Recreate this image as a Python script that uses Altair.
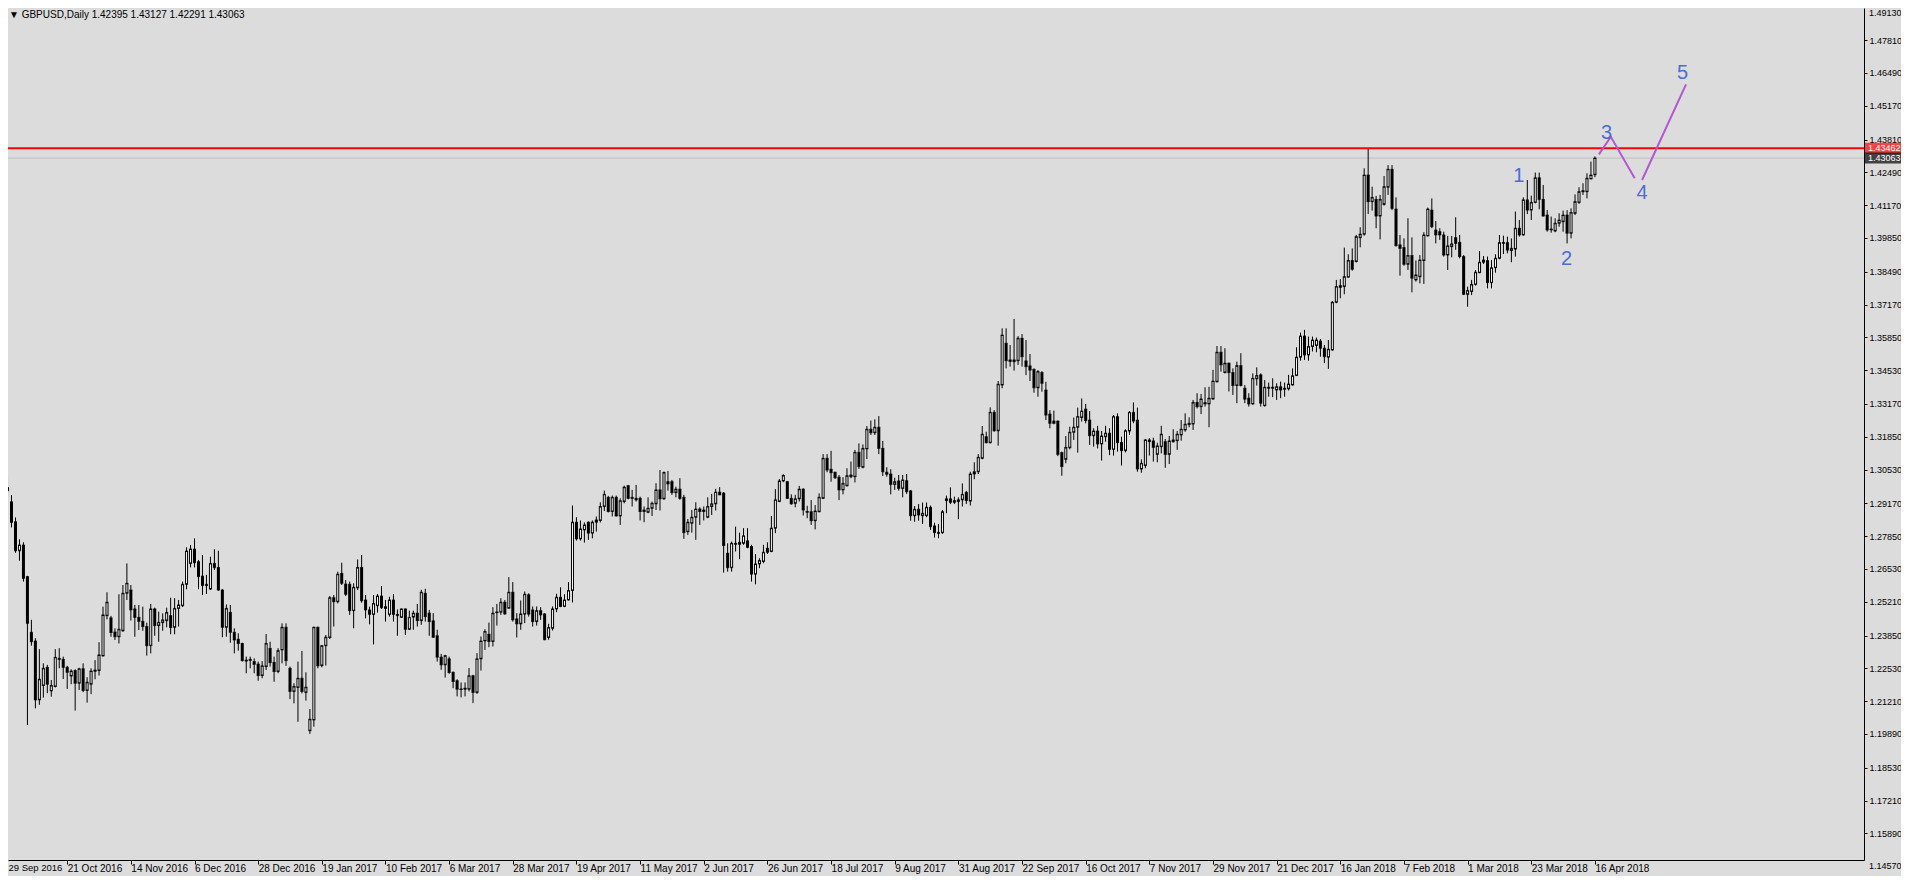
import altair as alt
import pandas as pd

# ---------------- data (GBPUSD daily) ----------------
opens = [
1.3000,1.2968,1.2923,1.2843,1.2726,1.2749,1.2622,1.2398,1.2363,1.2126,
1.2184,1.2257,1.2162,1.2180,1.2293,1.2289,1.2257,1.2222,1.2244,1.2193,
1.2251,1.2164,1.2189,1.2241,1.2244,1.2303,1.2465,1.2456,1.2399,1.2380,
1.2404,1.2555,1.2568,1.2492,1.2458,1.2442,1.2421,1.2344,1.2492,1.2425,
1.2437,1.2445,1.2465,1.2418,1.2494,1.2505,1.2591,1.2675,1.2733,1.2682,
1.2624,1.2591,1.2572,1.2675,1.2659,1.2568,1.2418,1.2478,1.2398,1.2370,
1.2353,1.2286,1.2285,1.2280,1.2270,1.2224,1.2260,1.2333,1.2277,1.2240,
1.2327,1.2418,1.2253,1.2160,1.2176,1.2213,1.2156,1.2002,1.2045,1.2418,
1.2264,1.2344,1.2377,1.2537,1.2521,1.2635,1.2592,1.2591,1.2485,1.2577,
1.2659,1.2528,1.2488,1.2470,1.2505,1.2544,1.2501,1.2470,1.2528,1.2470,
1.2458,1.2492,1.2410,1.2459,1.2475,1.2445,1.2555,1.2475,1.2444,1.2384,
1.2298,1.2267,1.2291,1.2237,1.2203,1.2170,1.2169,1.2169,1.2223,1.2156,
1.2291,1.2363,1.2390,1.2361,1.2477,1.2479,1.2519,1.2495,1.2559,1.2452,
1.2432,1.2471,1.2549,1.2488,1.2441,1.2485,1.2472,1.2377,1.2414,1.2492,
1.2539,1.2502,1.2528,1.2566,1.2841,1.2774,1.2810,1.2841,1.2797,1.2841,
1.2848,1.2904,1.2941,1.2884,1.2941,1.2866,1.2924,1.2988,1.2941,1.2937,
1.2937,1.2890,1.2881,1.2897,1.2915,1.2971,1.2935,1.2995,1.3004,1.2960,
1.2974,1.2941,1.2803,1.2837,1.2861,1.2894,1.2890,1.2861,1.2904,1.2915,
1.2962,1.2958,1.2716,1.2658,1.2756,1.2752,1.2756,1.2766,1.2743,1.2632,
1.2673,1.2683,1.2736,1.2723,1.2817,1.2924,1.3007,1.3004,1.2937,1.2917,
1.2935,1.2974,1.2884,1.2883,1.2847,1.2883,1.2937,1.3098,1.3054,1.3042,
1.3022,1.2971,1.2988,1.3024,1.3024,1.3122,1.3062,1.3136,1.3215,1.3201,
1.3223,1.3138,1.3042,1.3035,1.2993,1.3007,1.2977,1.3008,1.2967,1.2867,
1.2893,1.2867,1.2867,1.2901,1.2826,1.2796,1.2799,1.2928,1.2935,1.2921,
1.2931,1.2931,1.2961,1.2926,1.3035,1.3044,1.3098,1.3185,1.3161,1.3283,
1.3209,1.3393,1.3561,1.3494,1.3494,1.3491,1.3581,1.3490,1.3470,1.3456,
1.3382,1.3443,1.3373,1.3276,1.3239,1.3248,1.3121,1.3094,1.3141,1.3203,
1.3223,1.3262,1.3296,1.3252,1.3189,1.3208,1.3156,1.3185,1.3199,1.3134,
1.3266,1.3162,1.3129,1.3208,1.3283,1.3252,1.3055,1.3069,1.3172,1.3168,
1.3114,1.3145,1.3165,1.3114,1.3165,1.3169,1.3192,1.3212,1.3234,1.3236,
1.3323,1.3306,1.3317,1.3317,1.3337,1.3406,1.3525,1.3443,1.3481,1.3443,
1.3391,1.3471,1.3380,1.3340,1.3317,1.3418,1.3434,1.3310,1.3380,1.3384,
1.3373,1.3386,1.3376,1.3378,1.3393,1.3431,1.3505,1.3590,1.3514,1.3548,
1.3552,1.3570,1.3541,1.3505,1.3534,1.3726,1.3793,1.3789,1.3827,1.3894,
1.3890,1.3986,1.4000,1.4238,1.4131,1.4140,1.4073,1.4120,1.4189,1.4261,
1.4101,1.3957,1.3946,1.3879,1.3914,1.3816,1.3829,1.3894,1.3993,1.4097,
1.4017,1.4010,1.3997,1.3916,1.3950,1.3986,1.3967,1.3910,1.3758,1.3769,
1.3798,1.3845,1.3887,1.3894,1.3805,1.3865,1.3903,1.3963,1.3966,1.3934,
1.3940,1.4024,1.3997,1.4138,1.4097,1.4128,1.4227,1.4140,1.4077,1.4021,
1.4013,1.4044,1.4050,1.4077,1.4004,1.4084,1.4128,1.4171,1.4171,1.4222,
1.42395]

highs = [
1.3035,1.3027,1.2950,1.2860,1.2772,1.2760,1.2625,1.2448,1.2374,1.2330,
1.2273,1.2267,1.2206,1.2330,1.2334,1.2300,1.2263,1.2249,1.2249,1.2255,
1.2273,1.2217,1.2253,1.2286,1.2358,1.2501,1.2559,1.2464,1.2414,1.2551,
1.2588,1.2675,1.2588,1.2508,1.2508,1.2501,1.2437,1.2512,1.2497,1.2481,
1.2474,1.2497,1.2537,1.2535,1.2528,1.2602,1.2740,1.2749,1.2776,1.2689,
1.2709,1.2629,1.2702,1.2732,1.2726,1.2572,1.2510,1.2508,1.2414,1.2394,
1.2356,1.2300,1.2300,1.2293,1.2280,1.2282,1.2391,1.2360,1.2300,1.2334,
1.2434,1.2434,1.2260,1.2193,1.2280,1.2323,1.2237,1.2089,1.2421,1.2421,
1.2347,1.2387,1.2544,1.2548,1.2642,1.2678,1.2608,1.2602,1.2595,1.2691,
1.2709,1.2548,1.2501,1.2548,1.2552,1.2584,1.2528,1.2541,1.2552,1.2490,
1.2494,1.2494,1.2485,1.2485,1.2512,1.2569,1.2573,1.2488,1.2475,1.2408,
1.2311,1.2307,1.2300,1.2240,1.2209,1.2196,1.2196,1.2254,1.2227,1.2314,
1.2381,1.2410,1.2437,1.2499,1.2512,1.2535,1.2528,1.2620,1.2600,1.2475,
1.2526,1.2562,1.2555,1.2502,1.2502,1.2499,1.2475,1.2432,1.2502,1.2553,
1.2579,1.2551,1.2600,1.2908,1.2861,1.2848,1.2840,1.2844,1.2848,1.2864,
1.2921,1.2968,1.2947,1.2948,1.2948,1.2937,1.2988,1.2991,1.2971,1.2991,
1.2944,1.2904,1.2941,1.2924,1.2998,1.3051,1.3045,1.3047,1.3011,1.2984,
1.3018,1.2951,1.2854,1.2890,1.2921,1.2901,1.2904,1.2941,1.2955,1.2975,
1.2982,1.2962,1.2756,1.2763,1.2823,1.2799,1.2817,1.2817,1.2750,1.2713,
1.2696,1.2750,1.2760,1.2866,1.2974,1.3015,1.3034,1.3007,1.2953,1.2951,
1.2987,1.2978,1.2907,1.2930,1.2910,1.2957,1.3115,1.3115,1.3128,1.3044,
1.3031,1.3022,1.3058,1.3085,1.3132,1.3158,1.3154,1.3228,1.3250,1.3255,
1.3268,1.3168,1.3062,1.3054,1.3020,1.3031,1.3031,1.3035,1.2971,1.2906,
1.2914,1.2920,1.2920,1.2908,1.2839,1.2834,1.2890,1.2948,1.2981,1.2944,
1.2941,1.2997,1.2967,1.3044,1.3082,1.3115,1.3228,1.3205,1.3303,1.3292,
1.3409,1.3621,1.3621,1.3554,1.3659,1.3590,1.3598,1.3574,1.3518,1.3460,
1.3453,1.3449,1.3406,1.3292,1.3290,1.3250,1.3125,1.3188,1.3225,1.3262,
1.3302,1.3339,1.3317,1.3288,1.3219,1.3229,1.3208,1.3229,1.3219,1.3272,
1.3279,1.3185,1.3215,1.3288,1.3323,1.3302,1.3094,1.3176,1.3179,1.3181,
1.3161,1.3229,1.3176,1.3188,1.3215,1.3208,1.3252,1.3279,1.3263,1.3333,
1.3360,1.3357,1.3384,1.3386,1.3454,1.3550,1.3550,1.3541,1.3483,1.3460,
1.3487,1.3521,1.3393,1.3360,1.3440,1.3464,1.3440,1.3413,1.3403,1.3420,
1.3400,1.3407,1.3403,1.3434,1.3460,1.3545,1.3604,1.3615,1.3588,1.3588,
1.3584,1.3578,1.3554,1.3574,1.3731,1.3816,1.3819,1.3946,1.3919,1.3943,
1.3997,1.4028,1.4265,1.43462,1.4191,1.4154,1.4158,1.4234,1.4278,1.4278,
1.4148,1.3997,1.3983,1.4064,1.3987,1.3894,1.3916,1.4008,1.4107,1.4144,
1.4053,1.4024,1.4010,1.3993,1.3993,1.4068,1.3997,1.3916,1.3789,1.3816,
1.3856,1.3932,1.3912,1.3910,1.3896,1.3919,1.3997,1.3994,1.3990,1.3983,
1.4091,1.4057,1.4148,1.4218,1.4155,1.4248,1.4248,1.4198,1.4097,1.4071,
1.4064,1.4084,1.4095,1.4097,1.4104,1.4160,1.4189,1.4205,1.4245,1.4292,
1.43127]

lows = [
1.2950,1.2937,1.2820,1.2718,1.2686,1.2602,1.2025,1.2344,1.2092,1.2106,
1.2135,1.2153,1.2139,1.2176,1.2253,1.2210,1.2170,1.2189,1.2083,1.2166,
1.2157,1.2115,1.2149,1.2209,1.2224,1.2300,1.2450,1.2380,1.2367,1.2353,
1.2400,1.2528,1.2445,1.2380,1.2407,1.2404,1.2304,1.2313,1.2384,1.2360,
1.2404,1.2418,1.2390,1.2390,1.2421,1.2500,1.2571,1.2659,1.2659,1.2571,
1.2548,1.2552,1.2568,1.2649,1.2565,1.2378,1.2380,1.2356,1.2313,1.2324,
1.2280,1.2233,1.2253,1.2233,1.2203,1.2213,1.2246,1.2260,1.2199,1.2233,
1.2273,1.2263,1.2129,1.2112,1.2038,1.2152,1.2123,1.1989,1.2018,1.2253,
1.2257,1.2264,1.2371,1.2421,1.2514,1.2588,1.2544,1.2468,1.2414,1.2568,
1.2517,1.2454,1.2430,1.2349,1.2477,1.2492,1.2441,1.2461,1.2441,1.2384,
1.2457,1.2387,1.2407,1.2408,1.2421,1.2428,1.2441,1.2384,1.2375,1.2280,
1.2247,1.2216,1.2231,1.2173,1.2140,1.2136,1.2140,1.2160,1.2113,1.2150,
1.2244,1.2327,1.2338,1.2341,1.2425,1.2468,1.2468,1.2492,1.2441,1.2377,
1.2408,1.2435,1.2461,1.2421,1.2425,1.2448,1.2366,1.2368,1.2405,1.2479,
1.2499,1.2499,1.2526,1.2518,1.2767,1.2767,1.2759,1.2770,1.2776,1.2803,
1.2840,1.2886,1.2880,1.2864,1.2864,1.2830,1.2917,1.2933,1.2904,1.2924,
1.2848,1.2841,1.2877,1.2866,1.2890,1.2888,1.2931,1.2968,1.2951,1.2941,
1.2931,1.2774,1.2790,1.2799,1.2770,1.2830,1.2848,1.2857,1.2870,1.2888,
1.2950,1.2638,1.2642,1.2642,1.2723,1.2692,1.2750,1.2736,1.2602,1.2591,
1.2656,1.2676,1.2713,1.2720,1.2797,1.2922,1.3002,1.2935,1.2911,1.2901,
1.2924,1.2868,1.2857,1.2830,1.2812,1.2881,1.2934,1.3042,1.3004,1.3015,
1.2930,1.2953,1.2984,1.3018,1.3001,1.3055,1.3058,1.3095,1.3192,1.3192,
1.3115,1.3027,1.3024,1.2953,1.2971,1.2968,1.2941,1.2955,1.2847,1.2843,
1.2847,1.2834,1.2861,1.2810,1.2779,1.2776,1.2794,1.2877,1.2914,1.2914,
1.2853,1.2904,1.2914,1.2908,1.3014,1.3035,1.3094,1.3158,1.3158,1.3205,
1.3149,1.3380,1.3460,1.3467,1.3451,1.3474,1.3467,1.3433,1.3409,1.3362,
1.3346,1.3366,1.3252,1.3219,1.3235,1.3107,1.3028,1.3078,1.3134,1.3172,
1.3121,1.3246,1.3239,1.3152,1.3145,1.3138,1.3089,1.3165,1.3111,1.3109,
1.3125,1.3069,1.3122,1.3192,1.3239,1.3044,1.3040,1.3058,1.3109,1.3085,
1.3082,1.3118,1.3060,1.3075,1.3161,1.3132,1.3169,1.3205,1.3223,1.3212,
1.3299,1.3276,1.3306,1.3223,1.3333,1.3403,1.3447,1.3440,1.3367,1.3353,
1.3320,1.3387,1.3320,1.3306,1.3313,1.3391,1.3306,1.3306,1.3346,1.3344,
1.3333,1.3340,1.3346,1.3371,1.3391,1.3430,1.3491,1.3494,1.3491,1.3528,
1.3525,1.3507,1.3481,1.3458,1.3531,1.3722,1.3742,1.3758,1.3825,1.3853,
1.3886,1.3947,1.3994,1.4081,1.4095,1.4024,1.3979,1.4115,1.4158,1.4097,
1.3950,1.3833,1.3873,1.3856,1.3766,1.3809,1.3802,1.3800,1.3990,1.4024,
1.3963,1.3977,1.3910,1.3856,1.3907,1.3937,1.3903,1.3755,1.3708,1.3755,
1.3793,1.3843,1.3880,1.3782,1.3782,1.3845,1.3899,1.3920,1.3923,1.3887,
1.3910,1.3990,1.3994,1.4081,1.4057,1.4124,1.4100,1.4071,1.4010,1.4006,
1.4008,1.4030,1.4010,1.3963,1.3983,1.4077,1.4122,1.4158,1.4144,1.4221,
1.42291]

closes = [
1.2968,1.2981,1.2840,1.2726,1.2749,1.2615,1.2434,1.2360,1.2126,1.2209,
1.2253,1.2189,1.2184,1.2297,1.2289,1.2257,1.2237,1.2242,1.2193,1.2251,
1.2164,1.2197,1.2242,1.2246,1.2307,1.2468,1.2519,1.2397,1.2380,1.2410,
1.2555,1.2595,1.2488,1.2458,1.2442,1.2421,1.2344,1.2492,1.2425,1.2438,
1.2448,1.2478,1.2417,1.2494,1.2508,1.2591,1.2725,1.2733,1.2678,1.2622,
1.2586,1.2586,1.2675,1.2658,1.2568,1.2418,1.2494,1.2398,1.2367,1.2353,
1.2284,1.2282,1.2289,1.2269,1.2224,1.2263,1.2353,1.2276,1.2240,1.2324,
1.2418,1.2284,1.2160,1.2180,1.2213,1.2160,1.2177,1.2048,1.2418,1.2263,
1.2344,1.2378,1.2537,1.2521,1.2632,1.2595,1.2551,1.2485,1.2579,1.2659,
1.2525,1.2488,1.2470,1.2514,1.2544,1.2497,1.2494,1.2528,1.2470,1.2465,
1.2492,1.2410,1.2458,1.2475,1.2445,1.2559,1.2461,1.2441,1.2378,1.2298,
1.2267,1.2304,1.2236,1.2200,1.2169,1.2168,1.2173,1.2223,1.2156,1.2291,
1.2363,1.2401,1.2361,1.2475,1.2480,1.2519,1.2472,1.2559,1.2448,1.2432,
1.2472,1.2551,1.2471,1.2441,1.2485,1.2468,1.2368,1.2417,1.2492,1.2539,
1.2502,1.2528,1.2566,1.2841,1.2774,1.2814,1.2830,1.2797,1.2841,1.2850,
1.2904,1.2953,1.2884,1.2941,1.2866,1.2927,1.2982,1.2937,1.2937,1.2931,
1.2884,1.2884,1.2897,1.2917,1.2971,1.2935,1.3041,1.3004,1.2960,1.2974,
1.2937,1.2799,1.2841,1.2861,1.2894,1.2884,1.2884,1.2904,1.2915,1.2962,
1.2951,1.2747,1.2658,1.2756,1.2752,1.2760,1.2786,1.2740,1.2632,1.2673,
1.2687,1.2720,1.2720,1.2817,1.2931,1.3007,1.3029,1.2937,1.2915,1.2935,
1.2974,1.2890,1.2881,1.2847,1.2886,1.2941,1.3098,1.3051,1.3040,1.3020,
1.2971,1.2997,1.3028,1.3031,1.3122,1.3065,1.3138,1.3215,1.3201,1.3223,
1.3138,1.3044,1.3034,1.2993,1.3004,1.2977,1.3011,1.2964,1.2867,1.2893,
1.2870,1.2877,1.2901,1.2823,1.2799,1.2800,1.2883,1.2935,1.2921,1.2928,
1.2924,1.2953,1.2928,1.3035,1.3044,1.3102,1.3195,1.3161,1.3283,1.3209,
1.3396,1.3594,1.3491,1.3488,1.3487,1.3581,1.3507,1.3467,1.3453,1.3382,
1.3447,1.3400,1.3272,1.3239,1.3248,1.3114,1.3065,1.3142,1.3203,1.3223,
1.3266,1.3288,1.3250,1.3189,1.3208,1.3156,1.3188,1.3199,1.3134,1.3266,
1.3161,1.3129,1.3209,1.3283,1.3248,1.3055,1.3078,1.3172,1.3165,1.3142,
1.3148,1.3195,1.3114,1.3168,1.3172,1.3195,1.3215,1.3235,1.3239,1.3323,
1.3306,1.3337,1.3322,1.3340,1.3409,1.3525,1.3474,1.3481,1.3443,1.3391,
1.3471,1.3391,1.3336,1.3317,1.3420,1.3431,1.3320,1.3384,1.3384,1.3380,
1.3386,1.3373,1.3380,1.3397,1.3430,1.3505,1.3590,1.3514,1.3548,1.3574,
1.3574,1.3541,1.3507,1.3537,1.3726,1.3789,1.3786,1.3829,1.3894,1.3859,
1.3990,1.4000,1.4238,1.4131,1.4148,1.4073,1.4140,1.4191,1.4261,1.4104,
1.3954,1.3943,1.3879,1.3914,1.3823,1.3836,1.3896,1.3997,1.4101,1.4030,
1.3997,1.3997,1.3916,1.3953,1.3961,1.3963,1.3910,1.3758,1.3773,1.3798,
1.3847,1.3887,1.3896,1.3805,1.3865,1.3903,1.3966,1.3967,1.3936,1.3943,
1.4024,1.3997,1.4138,1.4097,1.4128,1.4227,1.4140,1.4073,1.4017,1.4017,
1.4044,1.4057,1.4077,1.4004,1.4087,1.4131,1.4171,1.4175,1.4225,1.4238,
1.43063]

date_labels = ["29 Sep 2016", "21 Oct 2016", "14 Nov 2016", "6 Dec 2016", "28 Dec 2016",
               "19 Jan 2017", "10 Feb 2017", "6 Mar 2017", "28 Mar 2017", "19 Apr 2017",
               "11 May 2017", "2 Jun 2017", "26 Jun 2017", "18 Jul 2017", "9 Aug 2017",
               "31 Aug 2017", "22 Sep 2017", "16 Oct 2017", "7 Nov 2017", "29 Nov 2017",
               "21 Dec 2017", "16 Jan 2018", "7 Feb 2018", "1 Mar 2018", "23 Mar 2018",
               "16 Apr 2018"]
label_every = 16

# right-axis price labels (top one and bottom one sit at the very edges of the view)
price_ticks = [1.47810, 1.46490, 1.45170, 1.43810, 1.42490, 1.41170, 1.39850,
               1.38490, 1.37170, 1.35850, 1.34530, 1.33170, 1.31850, 1.30530, 1.29170,
               1.27850, 1.26530, 1.25210, 1.23850, 1.22530, 1.21210, 1.19890, 1.18530,
               1.17210, 1.15890]
top_price_label = 1.49130
bottom_price_label = 1.14570

resistance = 1.43462
bid_price = 1.43063

wave_labels = ["1", "2", "3", "4", "5"]
wave_label_x = [380.85, 392.9, 402.9, 411.85, 422.0]
wave_label_y = [1.4234, 1.3901, 1.4408, 1.4165, 1.4647]

wave_seg = ["a", "a", "a", "b", "b"]
wave_x = [401.0, 404.0, 410.0, 411.85, 422.9]
wave_y = [1.4321, 1.4392, 1.4225, 1.4218, 1.4603]

# ---------------- styling ----------------
BG = "#DCDCDC"
FONT = "Liberation Sans"
W, H = 1856, 852
X_DOMAIN = [2.375, 466.375]
Y_DOMAIN = [1.14816, 1.49102]
AX_FS = 9

df = pd.DataFrame({"i": list(range(len(closes))), "open": opens, "high": highs,
                   "low": lows, "close": closes})

xs = alt.Scale(domain=X_DOMAIN, nice=False, zero=False)
ys = alt.Scale(domain=Y_DOMAIN, nice=False, zero=False)

label_js = "[" + ",".join("'%s'" % s for s in date_labels) + "]"
xaxis = alt.Axis(values=[k * label_every for k in range(1, len(date_labels))],
                 labelExpr=label_js + "[round(datum.value/%d)]" % label_every,
                 title=None, grid=False, orient="bottom", labelAlign="left",
                 labelBaseline="top", labelPadding=-1, tickSize=4, labelFlush=False,
                 labelOverlap=False, labelFont=FONT, labelFontSize=10, labelColor="black",
                 domainColor="black", tickColor="black")
yaxis = alt.Axis(values=price_ticks, format=".5f", title=None, grid=False, orient="right",
                 labelAlign="left", labelBaseline="middle", labelPadding=2, tickSize=3,
                 labelFlush=False, labelOverlap=False, labelFont=FONT, labelFontSize=AX_FS,
                 labelColor="black", domainColor="black", tickColor="black")


def X(f="i"):
    return alt.X(f + ":Q", scale=xs, axis=xaxis)


def Y(f):
    return alt.Y(f + ":Q", scale=ys, axis=yaxis)


base = alt.Chart(df)

bid_df = pd.DataFrame({"p": [bid_price], "lab": ["%.5f" % bid_price]})
res_df = pd.DataFrame({"p": [resistance], "lab": ["%.5f" % resistance]})

bid_line = alt.Chart(bid_df).mark_rule(color="#BEBEBE", strokeWidth=1).encode(y=Y("p"))

wicks = base.mark_rule(color="black", strokeWidth=1, clip=True).encode(
    x=X(), y=Y("low"), y2=alt.Y2("high"))
bodies = base.mark_bar(width=3, color="black", clip=True).encode(
    x=X(), y=Y("open"), y2=alt.Y2("close"))
tick_o = base.mark_tick(orient="horizontal", size=3, thickness=1, color="black",
                        clip=True).encode(x=X(), y=Y("open"))
tick_c = base.mark_tick(orient="horizontal", size=3, thickness=1, color="black",
                        clip=True).encode(x=X(), y=Y("close"))
inner = base.transform_filter("datum.close - datum.open > 0.0009").mark_bar(
    width=1, color="white", yOffset=1, y2Offset=-1, clip=True).encode(
    x=X(), y=Y("close"), y2=alt.Y2("open"))

res_line = alt.Chart(res_df).mark_rule(color="#FF0000", strokeWidth=2).encode(y=Y("p"))

wave_df = pd.DataFrame({"seg": wave_seg, "k": list(range(len(wave_x))),
                        "x": wave_x, "y": wave_y})
wave_lines = alt.Chart(wave_df).mark_line(color="#B357D6", strokeWidth=2).encode(
    x=X("x"), y=Y("y"), detail="seg:N", order="k:Q")

wl_df = pd.DataFrame({"t": wave_labels, "x": wave_label_x, "y": wave_label_y})
wave_text = alt.Chart(wl_df).mark_text(font=FONT, fontSize=20, color="#4A6CDC",
                                       align="center", baseline="middle").encode(
    x=X("x"), y=Y("y"), text="t:N")

res_tag = alt.Chart(res_df).mark_tick(orient="horizontal", size=36, thickness=11,
                                      color="#FF0000").encode(x=alt.value(W + 19), y=Y("p"))
bid_tag = alt.Chart(bid_df).mark_tick(orient="horizontal", size=36, thickness=11,
                                      color="black").encode(x=alt.value(W + 19), y=Y("p"))
res_txt = alt.Chart(res_df).mark_text(font=FONT, fontSize=AX_FS, color="white", align="left",
                                      baseline="middle").encode(
    x=alt.value(W + 4), y=Y("p"), text="lab:N")
bid_txt = alt.Chart(bid_df).mark_text(font=FONT, fontSize=AX_FS, color="white", align="left",
                                      baseline="middle").encode(
    x=alt.value(W + 4), y=Y("p"), text="lab:N")

top_df = pd.DataFrame({"lab": ["%.5f" % top_price_label]})
top_lab = alt.Chart(top_df).mark_text(font=FONT, fontSize=AX_FS, color="black", align="left",
                                      baseline="top").encode(
    x=alt.value(W + 5), y=alt.value(1), text="lab:N")
bot_df = pd.DataFrame({"p": [bottom_price_label], "lab": ["%.5f" % bottom_price_label]})
bot_lab = alt.Chart(bot_df).mark_text(font=FONT, fontSize=AX_FS, color="black", align="left",
                                      baseline="middle").encode(
    x=alt.value(W + 5), y=Y("p"), text="lab:N")

# first date label: its bar lies just left of the view, so it is placed at the left edge
first_df = pd.DataFrame({"lab": [date_labels[0]]})
first_lab = alt.Chart(first_df).mark_text(font=FONT, fontSize=9.5, color="black",
                                          align="left", baseline="top").encode(
    x=alt.value(0.5), y=alt.value(H + 3), text="lab:N")

header_txt = "\u25BC GBPUSD,Daily  %.5f %.5f %.5f %.5f" % (opens[-1], highs[-1], lows[-1], closes[-1])
hdr = alt.Chart(pd.DataFrame({"t": [header_txt]})).mark_text(
    font=FONT, fontSize=10, color="black", align="left", baseline="top").encode(
    x=alt.value(1), y=alt.value(2), text="t:N")

chart = alt.layer(bid_line, wicks, bodies, tick_o, tick_c, inner, res_line, wave_lines,
                  wave_text, res_tag, bid_tag, res_txt, bid_txt, top_lab, bot_lab,
                  first_lab, hdr
                  ).properties(
    width=W, height=H, background=BG,
    autosize=alt.AutoSizeParams(type="none"),
    padding={"left": 0, "top": 0, "right": 37, "bottom": 16},
).configure_view(strokeWidth=0)

chart.save("out.html", embed_options={"renderer": "svg", "actions": False})
